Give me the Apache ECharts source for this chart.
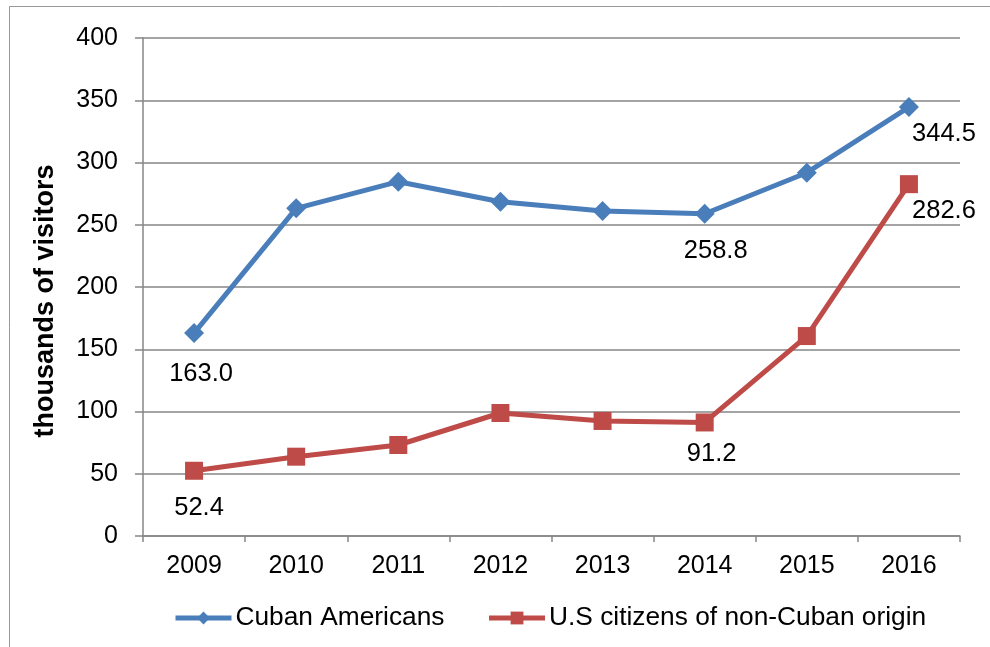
<!DOCTYPE html>
<html><head><meta charset="utf-8">
<script src="https://cdn.jsdelivr.net/npm/echarts@6/dist/echarts.min.js"></script>
<style>html,body{margin:0;padding:0;background:#fff}#c{width:990px;height:647px}</style>
</head><body><div id="c"></div>
<script>
const years = ['2009','2010','2011','2012','2013','2014','2015','2016'];
const cubanAmericans = [163.0, 263.2, 284.6, 268.5, 261.0, 258.8, 291.8, 344.5];
const nonCuban = [52.4, 63.7, 73.1, 98.8, 92.4, 91.2, 160.6, 282.6];
const seriesNames = ['Cuban Americans', 'U.S citizens of non-Cuban origin'];
const yAxisTitle = 'thousands of visitors';
const labelledIdx = [0, 5, 7];

const font = 'Liberation Sans, Arial, sans-serif';
const fs = 25;
function withLabels(vals, offsets) {
  return vals.map((v, i) => {
    if (labelledIdx.indexOf(i) < 0) return v;
    return { value: v, label: { show: true, formatter: v.toFixed(1), position: 'bottom', offset: offsets[i] } };
  });
}
const chart = echarts.init(document.getElementById('c'));
chart.setOption({
  animation: false,
  backgroundColor: '#fff',
  graphic: [{ type: 'rect', shape: { x: 9.5, y: 6.5, width: 1000, height: 660 }, style: { fill: 'none', stroke: '#999', lineWidth: 1 } }],
  grid: { left: 143, right: 30, top: 38, bottom: 111 },
  legend: {
    top: 600, left: 168, itemWidth: 56, itemHeight: 16, itemGap: 42,
    textStyle: { fontFamily: font, fontSize: 26.3, color: '#000', padding: [0, 0, 0, -1] },
    lineStyle: { width: 5 },
    data: seriesNames
  },
  xAxis: {
    type: 'category', data: years,
    axisLine: { lineStyle: { color: '#868686', width: 1.5 } },
    axisTick: { show: true, length: 6, lineStyle: { color: '#868686', width: 1.5 } },
    axisLabel: { fontFamily: font, fontSize: fs, color: '#000', margin: 18 }
  },
  yAxis: {
    type: 'value', min: 0, max: 400, interval: 50,
    name: yAxisTitle, nameLocation: 'middle', nameGap: 84, nameRotate: 90,
    nameTextStyle: { fontFamily: font, fontSize: 27, fontWeight: 'bold', color: '#000', padding: [0, 28, 0, 0] },
    axisLine: { show: true, lineStyle: { color: '#868686', width: 1.5 } },
    axisTick: { show: true, length: 8, lineStyle: { color: '#868686', width: 1.5 } },
    splitLine: { lineStyle: { color: '#868686', width: 1.5 } },
    axisLabel: { fontFamily: font, fontSize: fs, color: '#000', margin: 25 }
  },
  series: [
    {
      name: seriesNames[0], type: 'line', data: withLabels(cubanAmericans, {0:[7,13],5:[11,9],7:[35,-1]}),
      symbol: 'diamond', symbolSize: 20,
      lineStyle: { color: '#4A7EBB', width: 5 }, itemStyle: { color: '#4A7EBB' },
      label: { fontFamily: font, fontSize: 25.5, color: '#000' }
    },
    {
      name: seriesNames[1], type: 'line', data: withLabels(nonCuban, {0:[5,10],5:[7,5],7:[35,0]}),
      symbol: 'rect', symbolSize: 18,
      lineStyle: { color: '#BE4B48', width: 5 }, itemStyle: { color: '#BE4B48' },
      label: { fontFamily: font, fontSize: 25.5, color: '#000' }
    }
  ]
});
</script></body></html>
